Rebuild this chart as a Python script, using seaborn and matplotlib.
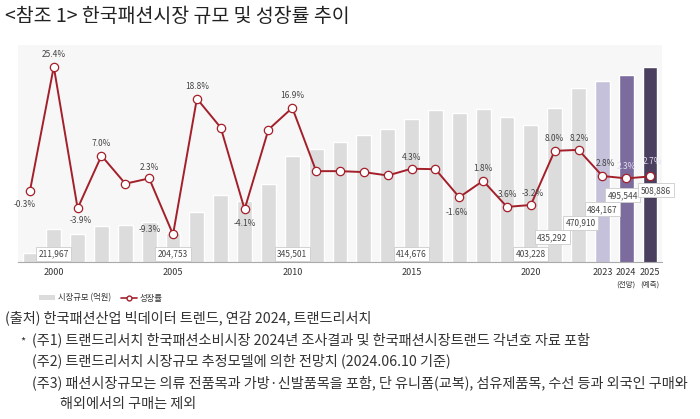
import numpy as np
import pandas as pd
import matplotlib
matplotlib.use("Agg")
import matplotlib.pyplot as plt
import matplotlib.transforms as mtransforms
from matplotlib.lines import Line2D
from matplotlib.patches import Patch
import seaborn as sns

# ─────────────────────────────────────────────
# DATA
# ─────────────────────────────────────────────
years = list(range(1999, 2026))
market = [169000, 211967, 203700, 218000, 220600, 225700, 204753, 243250, 274400,
          263150, 295600, 345501, 358600, 372200, 385600, 396800, 414676, 431500,
          425200, 432800, 417200, 403228, 435292, 470910, 484167, 495544, 508886]
growth = [-0.3, 25.4, -3.9, 7.0, 1.2, 2.3, -9.3, 18.8, 12.8, -4.1, 12.4, 16.9, 3.8,
          3.8, 3.6, 2.9, 4.3, 4.2, -1.6, 1.8, -3.6, -3.2, 8.0, 8.2, 2.8, 2.3, 2.7]

growth_label_years = [1999, 2000, 2001, 2002, 2004, 2005, 2006, 2008, 2010, 2015,
                      2017, 2018, 2019, 2020, 2021, 2022, 2023, 2024, 2025]
growth_label_text = ["-0.3%", "25.4%", "-3.9%", "7.0%", "2.3%", "-9.3%", "18.8%",
                     "-4.1%", "16.9%", "4.3%", "-1.6%", "1.8%", "3.6%", "-3.2%",
                     "8.0%", "8.2%", "2.8%", "2.3%", "2.7%"]

bar_label_years = [2000, 2005, 2010, 2015, 2020, 2021, 2022, 2023, 2024, 2025]

tick_years = [2000, 2005, 2010, 2015, 2020, 2023, 2024, 2025]
tick_notes = {2024: "(전망)", 2025: "(예측)"}

title = "<참조 1> 한국패션시장 규모 및 성장률 추이"
notes = [
    "(출처) 한국패션산업 빅데이터 트렌드, 연감 2024, 트랜드리서치",
    "(주1) 트랜드리서치 한국패션소비시장 2024년 조사결과 및 한국패션시장트랜드 각년호 자료 포함",
    "(주2) 트랜드리서치 시장규모 추정모델에 의한 전망치 (2024.06.10 기준)",
    "(주3) 패션시장규모는 의류 전품목과 가방·신발품목을 포함, 단 유니폼(교복), 섬유제품목, 수선 등과 외국인 구매와",
    "해외에서의 구매는 제외",
]

# ─────────────────────────────────────────────
# STYLE
# ─────────────────────────────────────────────
sns.set_style("white")
plt.rcParams["font.family"] = ["Noto Sans CJK KR", "DejaVu Sans"]

RED = "#a3202a"
GRAY_BAR = "#dcdcdc"
bar_colors = {str(y): GRAY_BAR for y in years}
bar_colors["2023"] = "#c6c1da"
bar_colors["2024"] = "#7c6c9d"
bar_colors["2025"] = "#4a3f5f"

# label offsets in pixels (dx, dy), for the growth labels
label_offsets = [(-5, -14), (0, 12), (3, -12), (0, 12), (0, 11), (-23, 5), (0, 12),
                 (0, -14), (0, 12), (0, 11), (-2, -15), (0, 12), (1, 12), (2, 11),
                 (0, 12), (1, 11), (3, 12), (0, 12), (2, 15)]
# bar value label heights (axes fraction)
bar_label_y = [0.039, 0.039, 0.039, 0.039, 0.039, 0.113, 0.182, 0.242, 0.307, 0.330]
bar_label_dx = [0, 0, 0, 0, 0, -0.1, 0.1, 0, -0.15, 0.25]

df = pd.DataFrame({"year": [str(y) for y in years], "market": market, "growth": growth})
pos = np.arange(len(years))

fig = plt.figure(figsize=(7, 4.19), dpi=100)
ax = fig.add_axes([18 / 700, 1 - 262 / 419, (662 - 18) / 700, (262 - 45) / 419])
ax.set_facecolor("#f7f7f7")

sns.barplot(data=df, x="year", y="market", hue="year", palette=bar_colors,
            legend=False, width=0.62, ax=ax, order=df["year"], saturation=1)
ax.set_xlim(-0.5, 26.5)
ax.set_ylim(152000, 550000)

ax2 = ax.twinx()
ax2.set_zorder(ax.get_zorder() + 1)
ax2.patch.set_visible(False)
sns.lineplot(x=pos, y=df["growth"], ax=ax2, color=RED, linewidth=1.4, marker="o",
             markersize=6, markerfacecolor="white", markeredgecolor=RED,
             markeredgewidth=0.9)
ax2.set_ylim(-15, 29.9)
ax2.set_xlim(-0.5, 26.5)

# growth labels
for yr, txt, (dx, dy) in zip(growth_label_years, growth_label_text, label_offsets):
    i = years.index(yr)
    col = "#e4e0f0" if yr in (2024, 2025) else "#444444"
    ax2.annotate(txt, (pos[i], growth[i]), xytext=(dx * 0.72, dy * 0.72),
                 textcoords="offset points", ha="center", va="center",
                 fontsize=6, color=col)

# bar value labels
trans = mtransforms.blended_transform_factory(ax.transData, ax.transAxes)
for yr, yf, dx in zip(bar_label_years, bar_label_y, bar_label_dx):
    i = years.index(yr)
    ax.text(pos[i] + dx, yf, f"{market[i]:,}", transform=trans, ha="center",
            va="center", fontsize=6, color="#444444", zorder=5,
            bbox=dict(boxstyle="square,pad=0.3", fc="white", ec="#cccccc", lw=0.6))

# axes cosmetics
for a in (ax, ax2):
    for s in ["top", "right", "left"]:
        a.spines[s].set_visible(False)
    a.set_yticks([])
    a.set_ylabel("")
    a.set_xlabel("")
ax2.spines["bottom"].set_visible(False)
ax.spines["bottom"].set_color("#aaaaaa")
ax.spines["bottom"].set_linewidth(0.8)

ax.set_xticks([years.index(y) for y in tick_years])
ax.set_xticklabels([str(y) for y in tick_years], fontsize=6.5, color="#333333")
ax.set_xticks(np.arange(-0.5, 27, 1), minor=True)
ax.tick_params(axis="x", which="major", length=0, pad=4)
ax.tick_params(axis="x", which="minor", length=4, color="#aaaaaa", width=0.7)
ax2.tick_params(axis="x", which="both", length=0, labelbottom=False)

for yr, note in tick_notes.items():
    ax.text(years.index(yr), -0.105, note, transform=trans, ha="center", va="center",
            fontsize=5.5, color="#333333")

# legend
handles = [Patch(facecolor=GRAY_BAR, edgecolor="none"),
           Line2D([0], [0], color=RED, lw=1.2, marker="o", markersize=3.5,
                  markerfacecolor="white", markeredgecolor=RED)]
fig.legend(handles, ["시장규모 (억원)", "성장률"], loc="center left",
           bbox_to_anchor=(31 / 700, 1 - 298 / 419), ncol=2, frameon=False,
           fontsize=6, handlelength=2.0, handleheight=0.5, columnspacing=1.2,
           handletextpad=0.3, labelcolor="#333333")

# title and notes
fig.text(5 / 700, 1 - 17 / 419, title, fontsize=14, ha="left", va="center",
         color="#222222")
note_pos = [(5, 318), (32, 340), (32, 361), (32, 383), (60, 404)]
for txt, (x, y) in zip(notes, note_pos):
    fig.text(x / 700, 1 - y / 419, txt, fontsize=10.2, ha="left", va="center",
             color="#333333")
fig.text(20 / 700, 1 - 341 / 419, "*", fontsize=8, ha="left", va="center",
         color="#333333")

fig.savefig("out.png", dpi=100)
